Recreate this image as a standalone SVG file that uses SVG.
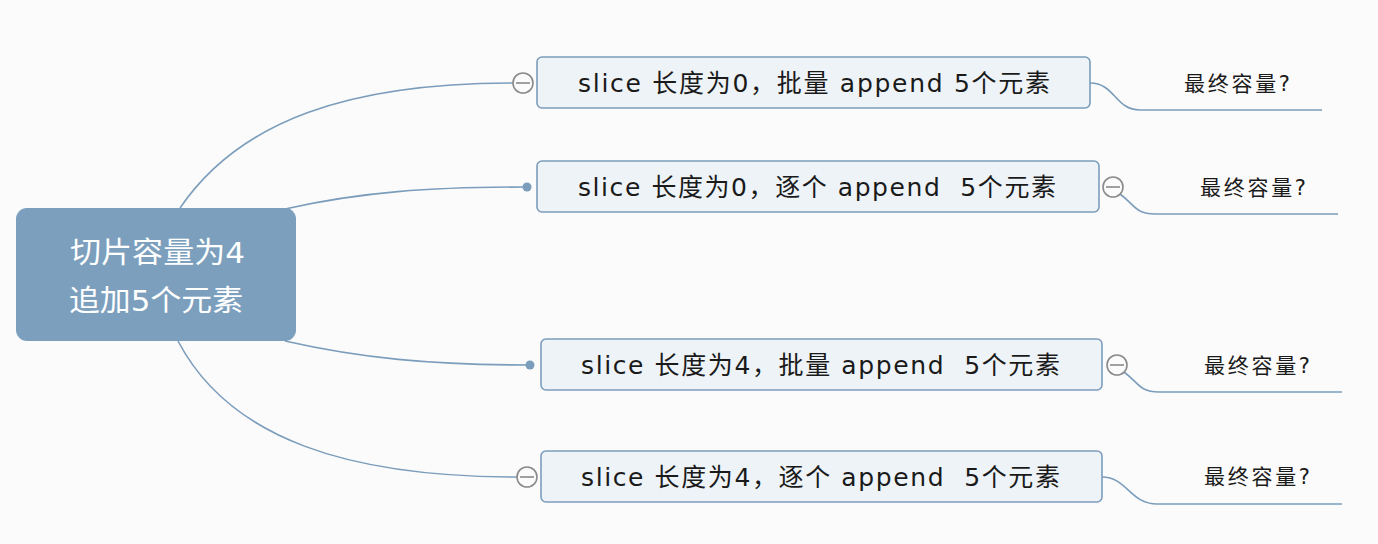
<svg xmlns="http://www.w3.org/2000/svg" width="1378" height="544" viewBox="0 0 1378 544">
<style>
.bg{fill:#fbfbfb}
.line{fill:none;stroke:#7b9dbb;stroke-width:1.6}
.node{fill:#eef3f7;stroke:#7b9dbb;stroke-width:1.6}
.root{fill:#7b9fbd}
text{white-space:pre}
.t{font-family:"DejaVu Sans","Noto Sans CJK SC",sans-serif;font-size:25px;fill:#1a1a1a}
.rt{font-family:"DejaVu Sans","Noto Sans CJK SC",sans-serif;font-size:29px;fill:#ffffff}
.lt{font-family:"DejaVu Sans","Noto Sans CJK SC",sans-serif;font-size:21px;fill:#1a1a1a}
.col{fill:#fbfbfb;stroke:#8a8a8a;stroke-width:1.6}
.bar{stroke:#8a8a8a;stroke-width:1.6}
.dot{fill:#7b9dbb}
</style>
<rect class="bg" x="0" y="0" width="1378" height="544"/>
<g id="connectors">
<path class="line" d="M180,208 C240,120 350,83 513,83"/>
<path class="line" d="M285,209 C360,192 430,187 527,187"/>
<path class="line" d="M285,341 C360,358 430,365 530,365"/>
<path class="line" d="M178,341 C230,440 350,477 517,477"/>
<path class="line" d="M1090,83 C1115,83 1115,110 1140,110 L1322,110"/>
<path class="line" d="M1120,194 C1135,205 1135,214 1155,214 L1338,214"/>
<path class="line" d="M1124,372 C1139,383 1139,392 1159,392 L1342,392"/>
<path class="line" d="M1102,477 C1127,477 1130,504 1157,504 L1342,504"/>
</g>
<g id="root">
<rect class="root" x="16" y="208" width="280" height="133" rx="11"/>
<text class="rt" x="70" y="263" textLength="175" lengthAdjust="spacingAndGlyphs">切片容量为4</text>
<text class="rt" x="69" y="311" textLength="174" lengthAdjust="spacingAndGlyphs">追加5个元素</text>
</g>
<g id="n1">
<rect class="node" x="537" y="57" width="553" height="51" rx="5"/>
<text class="t" x="578" y="92" textLength="472">slice 长度为0，批量 append 5个元素</text>
<circle class="col" cx="523" cy="83" r="10"/>
<line class="bar" x1="516" y1="83" x2="530" y2="83"/>
</g>
<g id="n2">
<rect class="node" x="537" y="161" width="562" height="51" rx="5"/>
<text class="t" x="578" y="196" textLength="478">slice 长度为0，逐个 append  5个元素</text>
<circle class="dot" cx="527" cy="187" r="4.5"/>
<circle class="col" cx="1113" cy="187" r="10"/>
<line class="bar" x1="1106" y1="187" x2="1120" y2="187"/>
</g>
<g id="n3">
<rect class="node" x="541" y="339" width="561" height="51" rx="5"/>
<text class="t" x="581" y="374" textLength="479">slice 长度为4，批量 append  5个元素</text>
<circle class="dot" cx="530" cy="365" r="4.5"/>
<circle class="col" cx="1117" cy="365" r="10"/>
<line class="bar" x1="1110" y1="365" x2="1124" y2="365"/>
</g>
<g id="n4">
<rect class="node" x="541" y="451" width="561" height="51" rx="5"/>
<text class="t" x="581" y="486" textLength="479">slice 长度为4，逐个 append  5个元素</text>
<circle class="col" cx="527" cy="477" r="10"/>
<line class="bar" x1="520" y1="477" x2="534" y2="477"/>
</g>
<g id="l1"><text class="lt" x="1184" y="91" textLength="106">最终容量?</text></g>
<g id="l2"><text class="lt" x="1200" y="195" textLength="106">最终容量?</text></g>
<g id="l3"><text class="lt" x="1204" y="373" textLength="106">最终容量?</text></g>
<g id="l4"><text class="lt" x="1204" y="484" textLength="106">最终容量?</text></g>
</svg>
